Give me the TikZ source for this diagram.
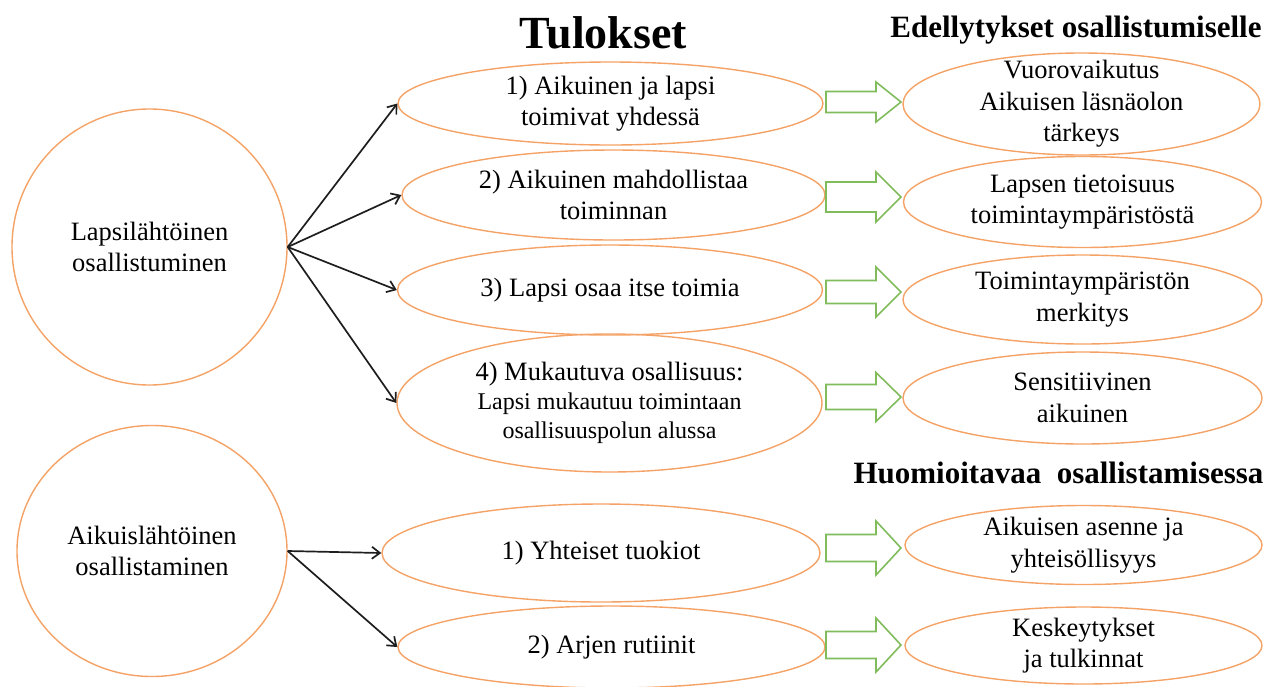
\documentclass[tikz,border=0pt]{standalone}
\usepackage{fontspec}
\setmainfont{Liberation Serif}
\usetikzlibrary{arrows.meta,shapes.geometric}
\definecolor{oran}{RGB}{244,162,102}
\definecolor{grn}{RGB}{128,188,92}
\definecolor{ink}{RGB}{30,30,30}
\tikzset{
  oval/.style={ellipse, draw=oran, line width=1.4pt, inner sep=0pt},
  body/.style={font=\fontsize{26.5}{31.5}\selectfont, align=center, inner sep=0pt},
  smallbody/.style={font=\fontsize{24}{29}\selectfont, align=center, inner sep=0pt},
  headtxt/.style={font=\fontsize{31}{36}\selectfont\bfseries, inner sep=0pt, anchor=base},
  conn/.style={draw=ink, line width=1.7pt, -{Straight Barb[length=8pt,width=12pt,line width=1.7pt]}},
  garr/.style={draw=grn, line width=1.6pt, line join=miter},
}
\newcommand\greenarrow[4]{%
  \coordinate (#1) at (826,#2);
  \draw[garr] (826,{#2-#3}) -- (876,{#2-#3}) -- (876,{#2-#4}) -- (901,#2)
    -- (876,{#2+#4}) -- (876,{#2+#3}) -- (826,{#2+#3}) -- cycle;
}
\begin{document}
\begin{tikzpicture}[x=1pt,y=-1pt]
\useasboundingbox (0,0) rectangle (1282,686);
\clip (0,0) rectangle (1282,686);

% titles
\node[headtxt, font=\fontsize{46}{50}\selectfont\bfseries] (t1) at (603.5,48) {Tulokset};
\node[headtxt] (t2) at (1076,37) {Edellytykset osallistumiselle};
\node[headtxt] (t3) at (1058.5,483) {Huomioitavaa\ \ osallistamisessa};

% left circles
\node[oval, minimum width=275pt, minimum height=276pt,
  label={[body]center:Lapsilähtöinen\\osallistuminen}] (c1) at (149.5,247) {};
\node[oval, minimum width=270pt, minimum height=251pt,
  label={[body]center:Aikuislähtöinen\\osallistaminen}] (c2) at (152,551) {};

% middle ellipses
\node[oval, minimum width=425pt, minimum height=83pt,
  label={[body]center:1) Aikuinen ja lapsi\\toimivat yhdessä}] (e1) at (610.5,103.5) {};
\node[oval, minimum width=423pt, minimum height=90pt,
  label={[body]center:2) Aikuinen mahdollistaa\\toiminnan}] (e2) at (613.5,195) {};
\node[oval, minimum width=425pt, minimum height=90pt,
  label={[body]center:3) Lapsi osaa itse toimia}] (e3) at (610,290) {};
\node[oval, minimum width=425pt, minimum height=138pt,
  label={[smallbody]center:{\fontsize{26.5}{31.5}\selectfont 4) Mukautuva osallisuus:}\\Lapsi mukautuu toimintaan\\osallisuuspolun alussa}] (e4) at (609.5,403) {};
\node[oval, minimum width=438pt, minimum height=98pt,
  label={[body]center:1) Yhteiset tuokiot}] (e5) at (601,553) {};
\node[oval, minimum width=427pt, minimum height=82pt,
  label={[body]center:2) Arjen rutiinit}] (e6) at (611.5,647) {};

% right ellipses
\node[oval, minimum width=357pt, minimum height=102pt,
  label={[body]center:Vuorovaikutus\\Aikuisen läsnäolon\\tärkeys}] (r1) at (1081.5,104) {};
\node[oval, minimum width=358pt, minimum height=91pt,
  label={[body]center:Lapsen tietoisuus\\toimintaympäristöstä}] (r2) at (1082.5,202) {};
\node[oval, minimum width=359pt, minimum height=89pt,
  label={[body]center:Toimintaympäristön\\merkitys}] (r3) at (1082.5,299.5) {};
\node[oval, minimum width=359pt, minimum height=92pt,
  label={[body]center:Sensitiivinen\\aikuinen}] (r4) at (1082.5,398) {};
\node[oval, minimum width=357pt, minimum height=79pt,
  label={[body]center:Aikuisen asenne ja\\yhteisöllisyys}] (r5) at (1083.5,545) {};
\node[oval, minimum width=357pt, minimum height=77pt,
  label={[body]center:Keskeytykset\\ja tulkinnat}] (r6) at (1083.5,645.5) {};

% black connectors
\draw[conn] (c1.east) -- (e1.west);
\draw[conn] (c1.east) -- (e2.west);
\draw[conn] (c1.east) -- (e3.west);
\draw[conn] (c1.east) -- (e4.west);
\draw[conn] (c2.east) -- (e5.west);
\draw[conn] (c2.east) -- (e6.west);

% green block arrows
\greenarrow{g1}{102}{10.5}{20}
\greenarrow{g2}{197}{15}{25}
\greenarrow{g3}{292}{11.5}{25}
\greenarrow{g4}{397}{12.5}{24.5}
\greenarrow{g5}{548}{13.5}{27}
\greenarrow{g6}{645}{13.5}{27}
\end{tikzpicture}
\end{document}
